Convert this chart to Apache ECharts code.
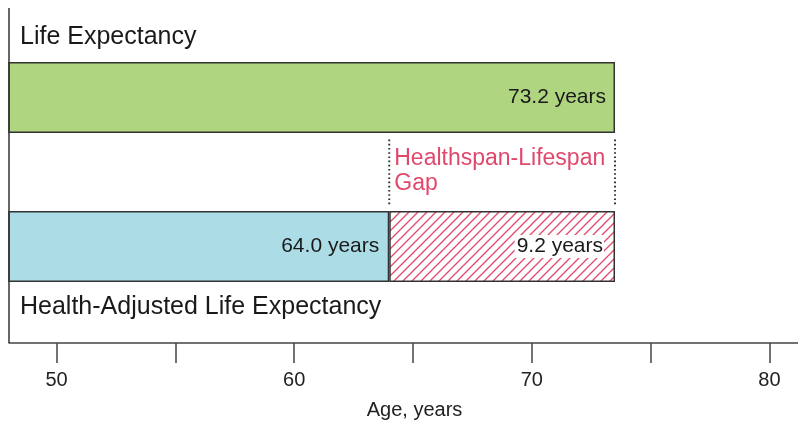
<!DOCTYPE html>
<html><head><meta charset="utf-8">
<script src="https://cdn.jsdelivr.net/npm/echarts@6/dist/echarts.min.js"></script>
<style>html,body{margin:0;padding:0;background:#fff}#c{width:798px;height:422px}</style>
</head><body><div id="c"></div>
<script>
// ---- data ----
const categories = ['Life Expectancy', 'Healthspan-Lifespan Gap', 'Health-Adjusted Life Expectancy'];
const lifeExpectancy = [73.5, '-', '-'];
const healthyYears = ['-', '-', 64.0];
const gapYears = ['-', '-', 9.5];
const gapSpan = [64.0, 73.5];
const valueLabels = ['73.2 years', '64.0 years', '9.2 years'];
const gapLabel = 'Healthspan-Lifespan\nGap';
const tickValues = [50, 55, 60, 65, 70, 75, 80];
const tickLabels = [50, 60, 70, 80];
const axisTitle = 'Age, years';

// ---- styles ----
const FONT = '"Liberation Sans", Arial, Helvetica, sans-serif';
const GREEN = '#b0d580', BLUE = '#acdce6', PINK = '#e0486c', EDGE = '#333';

function hatch(color) {
  const s = 9, c = document.createElement('canvas');
  c.width = s; c.height = s;
  const g = c.getContext('2d');
  g.fillStyle = '#fff'; g.fillRect(0, 0, s, s);
  g.strokeStyle = color; g.lineWidth = 1.3;
  g.beginPath();
  g.moveTo(0, s); g.lineTo(s, 0);
  g.moveTo(-1, 1); g.lineTo(1, -1);
  g.moveTo(s - 1, s + 1); g.lineTo(s + 1, s - 1);
  g.stroke();
  return c;
}

const chart = echarts.init(document.getElementById('c'), null, {renderer: 'canvas'});
const barLabel = (i, dist, extra) => Object.assign({
  show: true, position: 'insideRight', distance: dist,
  formatter: () => valueLabels[i], fontSize: 21, color: '#1a1a1a', fontFamily: FONT
}, extra || {});

chart.setOption({
  animation: false,
  backgroundColor: '#fff',
  textStyle: {fontFamily: FONT},
  grid: {left: 9, right: 0, top: 60.25, height: 223.5, containLabel: false, outerBoundsMode: 'none'},
  xAxis: {
    type: 'value', min: 48, max: 81.2, position: 'bottom', offset: 59.25,
    axisLine: {show: true, lineStyle: {color: '#444', width: 1.5}},
    axisTick: {show: true, customValues: tickValues, length: 20, lineStyle: {color: '#444', width: 1.5}},
    axisLabel: {customValues: tickLabels, margin: 27, fontSize: 20, color: '#222'},
    splitLine: {show: false},
    name: axisTitle, nameLocation: 'middle', nameGap: 57,
    nameTextStyle: {fontSize: 20, color: '#222', padding: [0, 0, 0, 22]}
  },
  yAxis: {
    type: 'category', data: categories, inverse: true,
    axisLine: {show: false}, axisTick: {show: false}, splitLine: {show: false},
    axisLabel: {
      inside: true, margin: 11, align: 'left',
      formatter: (v, i) => i === 0 ? '{a|' + v + '}' : (i === 2 ? '{b|' + v + '}' : ''),
      rich: {
        a: {fontSize: 25, color: '#1a1a1a', fontFamily: FONT, padding: [0, 0, 120, 0]},
        b: {fontSize: 25, color: '#1a1a1a', fontFamily: FONT, padding: [122, 0, 0, 0]}
      }
    }
  },
  series: [
    {
      name: 'Life Expectancy', type: 'bar', stack: 'a', data: lifeExpectancy, barWidth: 71,
      itemStyle: {color: GREEN, borderColor: EDGE, borderWidth: 1.5},
      label: barLabel(0, 9)
    },
    {
      name: 'Health-Adjusted Life Expectancy', type: 'bar', stack: 'a', data: healthyYears, barWidth: 71,
      itemStyle: {color: BLUE, borderColor: EDGE, borderWidth: 1.5},
      label: barLabel(1, 10)
    },
    {
      name: 'Healthspan-Lifespan Gap', type: 'bar', stack: 'a', data: gapYears, barWidth: 71,
      itemStyle: {color: {image: hatch(PINK), repeat: 'repeat'}, borderColor: EDGE, borderWidth: 1.5},
      label: barLabel(2, 11, {backgroundColor: '#fff', padding: [2, 1, 0, 2]})
    },
    {
      type: 'custom', silent: true,
      data: [[gapSpan[0], gapSpan[1], categories[1]]],
      encode: {x: [0, 1], y: 2},
      renderItem(params, api) {
        const a = api.coord([api.value(0), api.value(2)]);
        const b = api.coord([api.value(1), api.value(2)]);
        const h = api.size([0, 1])[1] * 0.87;
        const ls = {stroke: '#333', lineWidth: 2, lineDash: [1.6, 2.6]};
        return {type: 'group', children: [
          {type: 'line', shape: {x1: a[0], y1: a[1] - h / 2, x2: a[0], y2: a[1] + h / 2}, style: ls},
          {type: 'line', shape: {x1: b[0], y1: b[1] - h / 2, x2: b[0], y2: b[1] + h / 2}, style: ls},
          {type: 'text', x: a[0] + 5, y: a[1] - h / 2 + 7,
           style: {text: gapLabel, fill: PINK, font: '23px ' + FONT, lineHeight: 25, verticalAlign: 'top', align: 'left'}}
        ]};
      }
    }
  ],
  graphic: [
    {type: 'line', shape: {x1: 9, y1: 8, x2: 9, y2: 343}, style: {stroke: '#333', lineWidth: 1.5}, z: 10}
  ]
});
</script>
</body></html>
